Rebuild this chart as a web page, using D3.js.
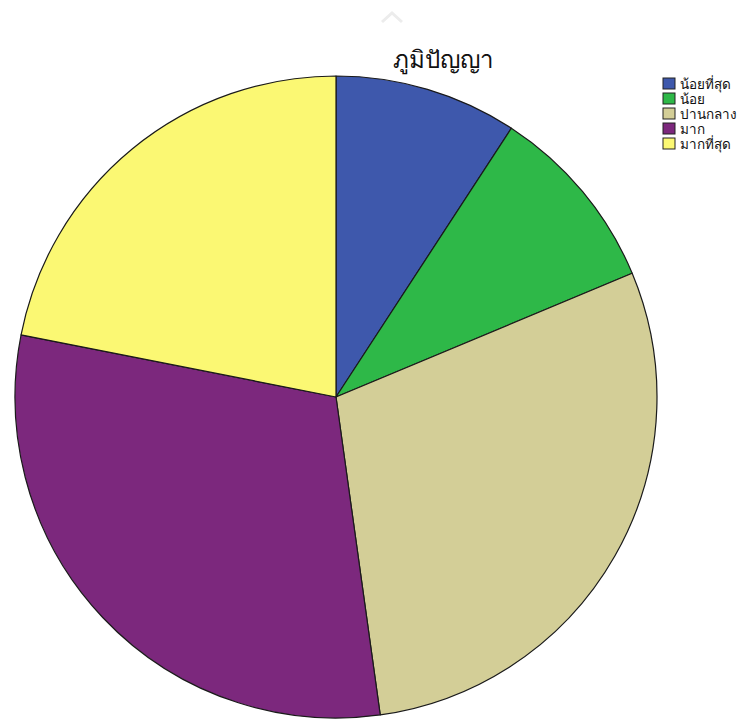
<!DOCTYPE html>
<html><head><meta charset="utf-8">
<script src="https://cdn.jsdelivr.net/npm/d3@7"></script>
<style>body{margin:0;background:#fff;overflow:hidden}svg{display:block}</style>
</head><body>
<script>
const categories = ["น้อยที่สุด", "น้อย", "ปานกลาง", "มาก", "มากที่สุด"];
const values = [9.2, 9.5, 29.1, 30.3, 21.9];
const colors = ["#3E58AC", "#2EB848", "#D3CE97", "#7C287D", "#FBF873"];
const title = "ภูมิปัญญา";

const W = 743, H = 719;
const svg = d3.select("body").append("svg").attr("width", W).attr("height", H);
const cx = 336, cy = 397, R = 321;

// faint artifact at top
svg.append("path").attr("d", "M382,22 L392,13 L402,22").attr("fill", "none")
  .attr("stroke", "#ececec").attr("stroke-width", 3);

const pie = d3.pie().sort(null).value(d => d.v);
const arc = d3.arc().innerRadius(0).outerRadius(R);
const data = categories.map((c, i) => ({c, v: values[i], col: colors[i]}));

svg.append("g").attr("transform", `translate(${cx},${cy})`)
  .selectAll("path").data(pie(data)).join("path")
  .attr("d", arc).attr("fill", d => d.data.col)
  .attr("stroke", "#1a1a1a").attr("stroke-width", 1.2).attr("stroke-linejoin", "round");

svg.append("text").attr("x", 443).attr("y", 68).attr("text-anchor", "middle")
  .attr("font-family", "'Noto Sans', sans-serif").attr("font-size", 24).attr("fill", "#111")
  .text(title);

const lg = svg.append("g").attr("transform", "translate(663,78)");
const step = 15;
lg.selectAll("rect").data(data).join("rect")
  .attr("x", 0).attr("y", (d, i) => i * step).attr("width", 12).attr("height", 11)
  .attr("fill", d => d.col).attr("stroke", "#222").attr("stroke-width", 1);
lg.selectAll("text").data(data).join("text")
  .attr("x", 17).attr("y", (d, i) => i * step + 11)
  .attr("font-family", "'Noto Sans', sans-serif").attr("font-size", 13.5).attr("fill", "#111")
  .text(d => d.c);
</script>
</body></html>
